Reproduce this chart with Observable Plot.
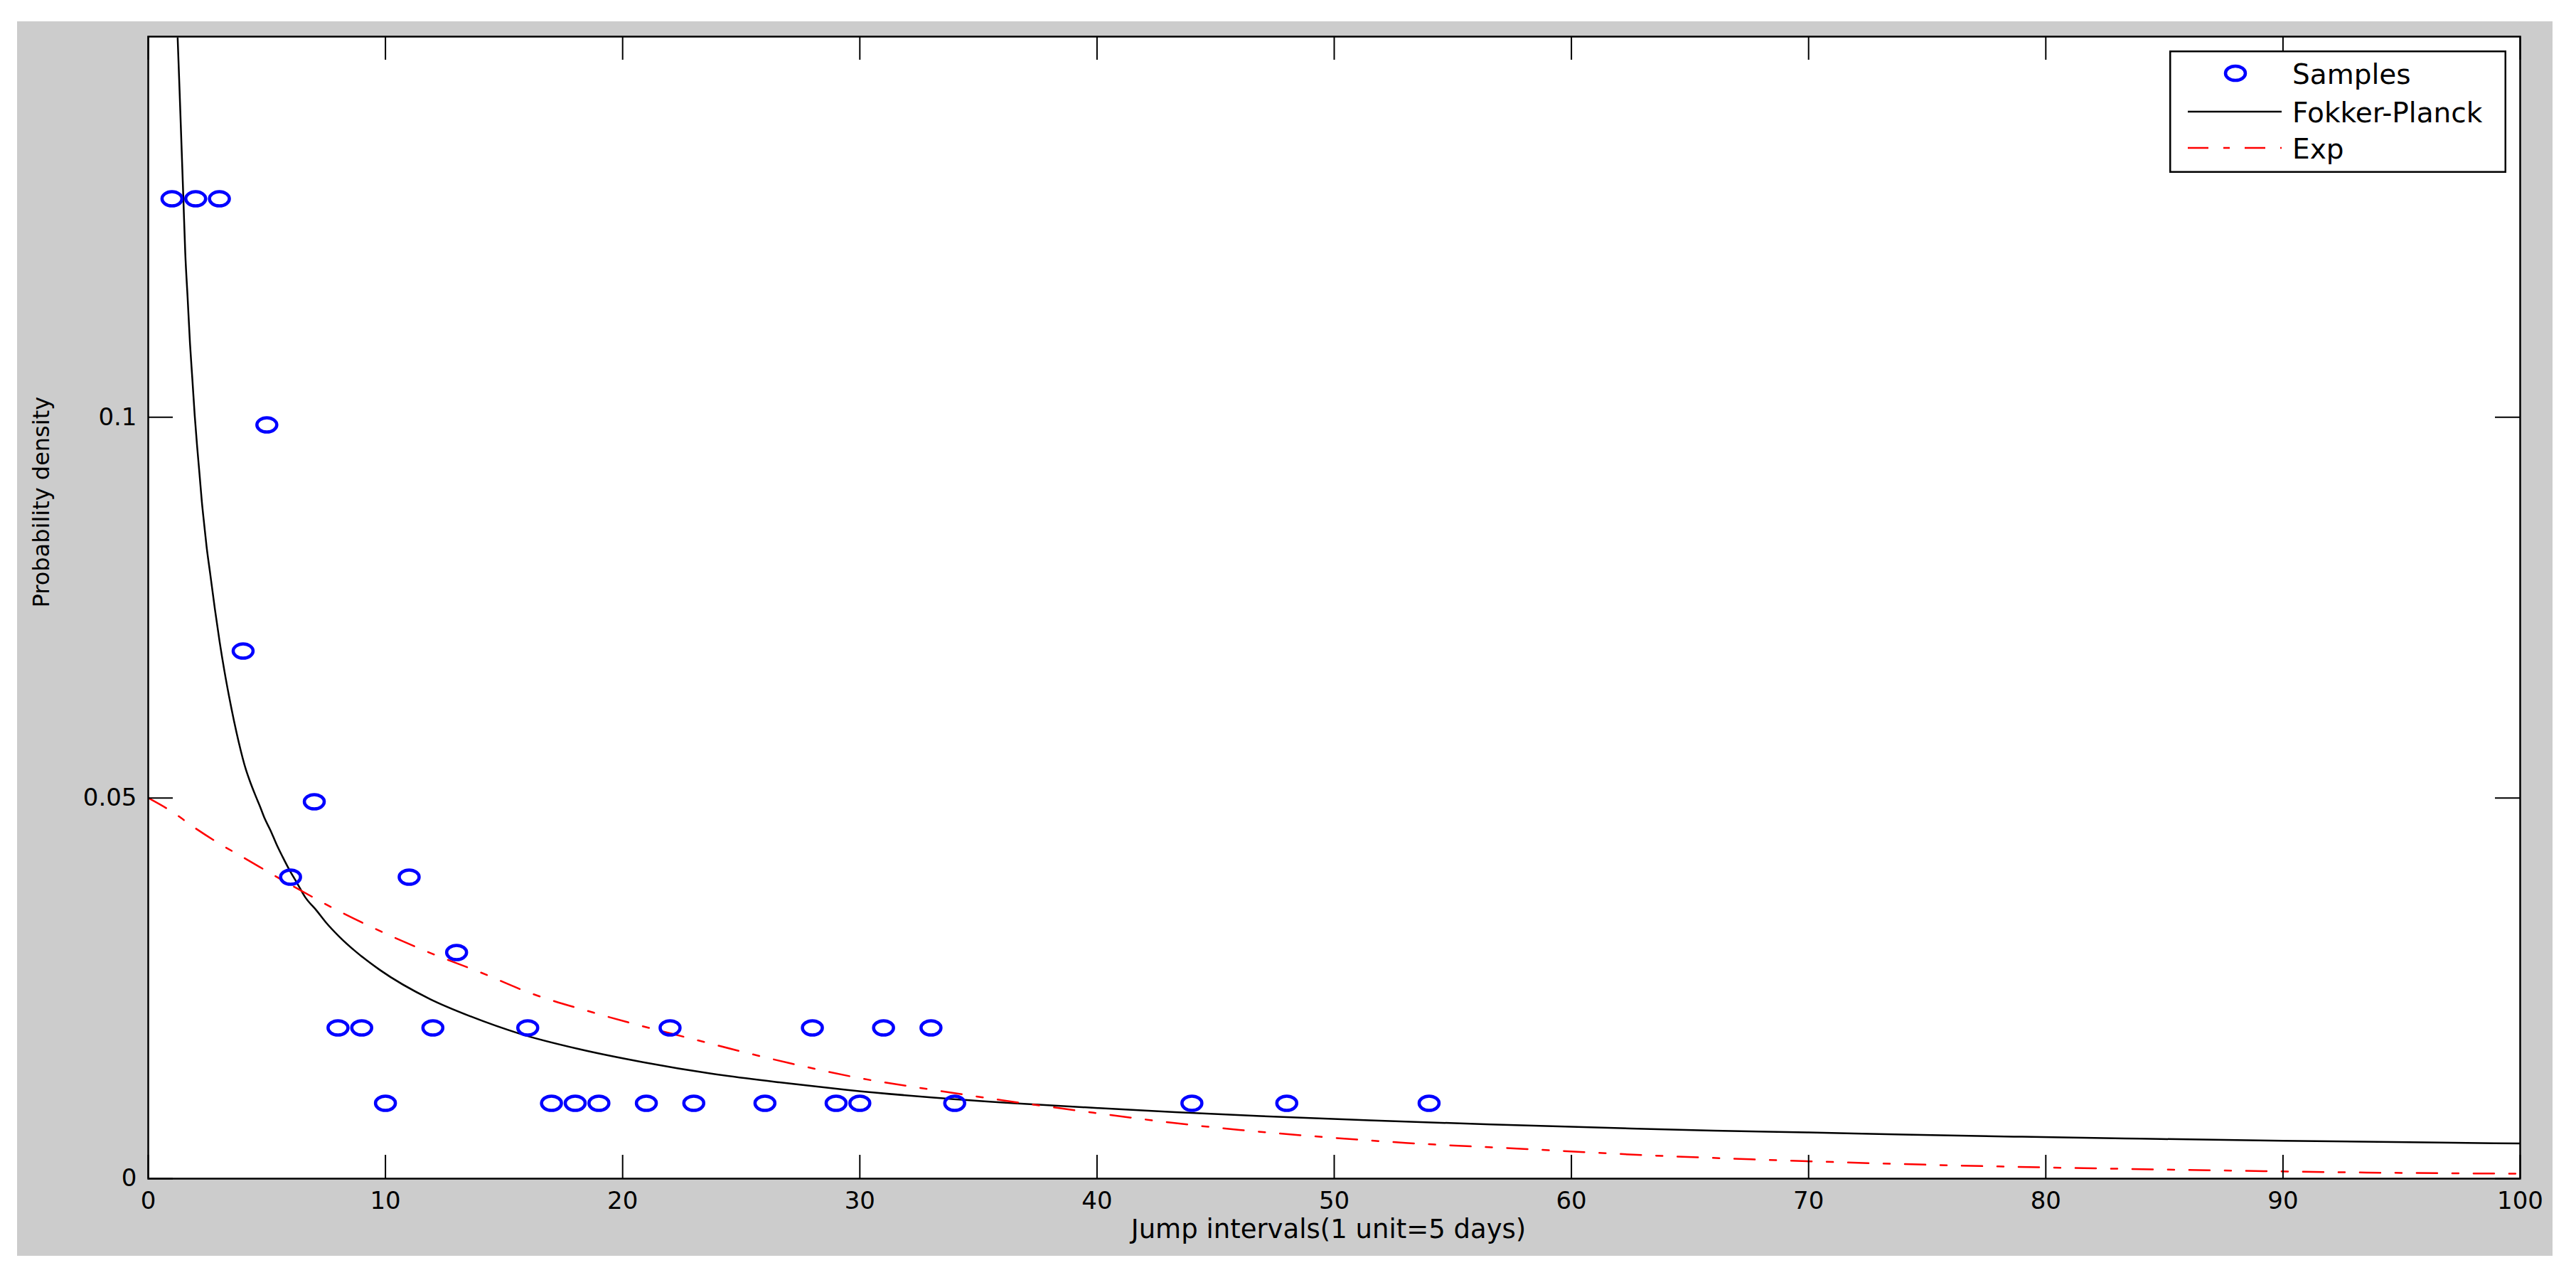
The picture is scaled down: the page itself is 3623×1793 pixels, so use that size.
<!DOCTYPE html>
<html>
<head>
<meta charset="utf-8">
<script src="https://cdn.jsdelivr.net/npm/d3@7"></script>
<script src="https://cdn.jsdelivr.net/npm/@observablehq/plot@0.6"></script>
<style>
  html, body { margin: 0; padding: 0; background: #ffffff; }
  #fig { position: absolute; left: 24px; top: 30px; width: 3566px; height: 1736px; background: #cccccc; }
  #fig svg { overflow: visible; }
  #legend { position: absolute; left: 3051px; top: 71px; }
</style>
</head>
<body>
<div id="fig"></div>
<div id="legend"></div>
<script>
// ---- data ----
const xTicks = [0, 10, 20, 30, 40, 50, 60, 70, 80, 90, 100];
const yTicks = [0, 0.05, 0.1];
const xLabel = "Jump intervals(1 unit=5 days)";
const yLabel = "Probability density";
const seriesNames = ["Samples", "Fokker-Planck", "Exp"];

const sampleX = [1, 2, 3, 4, 5, 6, 7, 8, 9, 10, 11, 12, 13, 16, 17, 18, 19, 21, 22, 23, 26, 28, 29, 30, 31, 33, 34, 44, 48, 54];
const sampleY = [0.1287, 0.1287, 0.1287, 0.0693, 0.0990, 0.0396, 0.0495, 0.0198, 0.0198, 0.0099,
                 0.0396, 0.0198, 0.0297, 0.0198, 0.0099, 0.0099, 0.0099, 0.0099, 0.0198, 0.0099,
                 0.0099, 0.0198, 0.0099, 0.0099, 0.0198, 0.0198, 0.0099, 0.0099, 0.0099, 0.0099];

const fpX = [1.24, 1.32, 1.41, 1.48, 1.56, 1.66, 1.76, 1.86, 1.96, 2.06, 2.16, 2.26, 2.36, 2.46, 2.61, 2.81, 3.01, 3.21, 3.41, 3.61, 3.81, 4.11, 4.31, 4.51, 4.71, 4.91, 5.16, 5.41, 5.66, 5.96, 6.26, 6.61, 7.10, 7.48, 8.05, 8.72, 9.77, 11.87, 13.6, 15.7, 18.19, 20.86, 23.73, 26.6, 29.47, 33.1, 37.3, 40.07, 43.3, 46.9, 51.5, 56.6, 62.5, 66, 70, 74, 79, 84, 90, 96.6, 100];
const fpY = [0.1498, 0.1430, 0.1350, 0.1288, 0.1216, 0.1157, 0.1097, 0.1050, 0.1002, 0.0962, 0.0926, 0.0889, 0.0859, 0.0830, 0.0795, 0.0748, 0.0705, 0.0667, 0.0633, 0.0602, 0.0574, 0.0538, 0.0520, 0.0504, 0.0489, 0.0473, 0.0457, 0.0439, 0.0423, 0.0405, 0.0389, 0.0370, 0.0352, 0.0337, 0.0318, 0.0299, 0.0274, 0.0236, 0.0213, 0.0190, 0.0170, 0.0153, 0.0138, 0.01265, 0.01166, 0.01065, 0.00976, 0.00927, 0.00874, 0.00821, 0.00765, 0.00712, 0.00659, 0.0063, 0.00606, 0.00578, 0.0055, 0.00525, 0.00497, 0.00473, 0.00462];

const expX = [0, 1, 2, 3, 4, 6, 8, 10, 12, 14, 16, 19, 23, 27, 30, 33, 36, 40, 43, 46, 49, 53, 58, 63, 68, 73, 78, 83, 88, 93, 100];
const expY = [0.0500, 0.0482, 0.0460, 0.0440, 0.0422, 0.0386, 0.0352, 0.0322, 0.0295, 0.0271, 0.0245, 0.0216, 0.0183, 0.0152, 0.0132, 0.0117, 0.0103, 0.0086, 0.0074, 0.0064, 0.0056, 0.0047, 0.0039, 0.0031, 0.0025, 0.0020, 0.0016, 0.0013, 0.00105, 0.00082, 0.00065];

// ---- build tables ----
const samples = sampleX.map((x, i) => ({x, y: sampleY[i]}));
const fp = fpX.map((x, i) => ({x, y: fpY[i]}));
const ex = expX.map((x, i) => ({x, y: expY[i]}));

const FONT = "DejaVu Sans";
const W = 3566, H = 1736, ML = 184, MT = 21, MR = 46, MB = 109;
const innerW = W - ML - MR, innerH = H - MT - MB;
const TICK = 33;

// ellipse marker (the reference circles are slightly wider than tall)
const ellipse = {
  draw(ctx) {
    const rx = 14, ry = 10, k = 0.5523;
    ctx.moveTo(rx, 0);
    ctx.bezierCurveTo(rx, ry * k, rx * k, ry, 0, ry);
    ctx.bezierCurveTo(-rx * k, ry, -rx, ry * k, -rx, 0);
    ctx.bezierCurveTo(-rx, -ry * k, -rx * k, -ry, 0, -ry);
    ctx.bezierCurveTo(rx * k, -ry, rx, -ry * k, rx, 0);
    ctx.closePath();
  }
};

const chart = Plot.plot({
  width: W, height: H,
  marginLeft: ML, marginTop: MT, marginRight: MR, marginBottom: MB,
  x: {domain: [0, 100]},
  y: {domain: [0, 0.15]},
  style: {background: "transparent", fontFamily: FONT, color: "black"},
  marks: [
    Plot.frame({fill: "white", stroke: null}),
    Plot.line(fp, {x: "x", y: "y", stroke: "black", strokeWidth: 2.5, curve: "monotone-x", clip: true}),
    Plot.line(ex, {x: "x", y: "y", stroke: "#ff0000", strokeWidth: 2.5, strokeDasharray: "29,21,9,21", curve: "monotone-x", clip: true}),
    Plot.dot(samples, {x: "x", y: "y", symbol: ellipse, stroke: "#0000ff", strokeWidth: 4.5, fill: "none"}),
    Plot.tickX(xTicks, {x: d => d, insetTop: innerH - TICK, stroke: "black", strokeWidth: 2}),
    Plot.tickX(xTicks, {x: d => d, insetBottom: innerH - TICK, stroke: "black", strokeWidth: 2}),
    Plot.tickY(yTicks, {y: d => d, insetRight: innerW - TICK - 2, stroke: "black", strokeWidth: 2}),
    Plot.tickY(yTicks, {y: d => d, insetLeft: innerW - TICK - 2, stroke: "black", strokeWidth: 2}),
    Plot.frame({stroke: "black", strokeWidth: 2.5}),
    Plot.axisX({ticks: xTicks, tickSize: 0, tickPadding: 18, fontSize: 34, tickFormat: d => String(d), label: null}),
    Plot.axisY({ticks: yTicks, tickSize: 0, tickPadding: 16, fontSize: 34, tickFormat: d => String(d), label: null}),
    Plot.text([xLabel], {text: d => d, frameAnchor: "bottom", dy: 83, dx: -8, fontSize: 37}),
    Plot.text([yLabel], {text: d => d, frameAnchor: "left", dx: -150, rotate: -90, fontSize: 32})
  ]
});
document.getElementById("fig").appendChild(chart);

// ---- legend (inside the axes, top right) ----
const LW = 474, LH = 172;
const leg = d3.select("#legend").append("svg").attr("width", LW).attr("height", LH)
  .style("font-family", FONT).style("font-size", "39px");
leg.append("rect").attr("x", 1.25).attr("y", 1.25).attr("width", LW - 2.5).attr("height", LH - 2.5)
  .attr("fill", "white").attr("stroke", "black").attr("stroke-width", 2.5);
const p = d3.path(); ellipse.draw(p);
leg.append("path").attr("d", p.toString()).attr("transform", "translate(93,32)")
  .attr("fill", "none").attr("stroke", "#0000ff").attr("stroke-width", 4.5);
leg.append("line").attr("x1", 26).attr("x2", 158).attr("y1", 86).attr("y2", 86)
  .attr("stroke", "black").attr("stroke-width", 2.5);
leg.append("line").attr("x1", 26).attr("x2", 158).attr("y1", 137).attr("y2", 137)
  .attr("stroke", "#ff0000").attr("stroke-width", 2.5).attr("stroke-dasharray", "29,21,9,21");
[47, 101, 152].forEach((by, i) => {
  leg.append("text").attr("x", 173).attr("y", by).attr("fill", "black").text(seriesNames[i]);
});
</script>
</body>
</html>
